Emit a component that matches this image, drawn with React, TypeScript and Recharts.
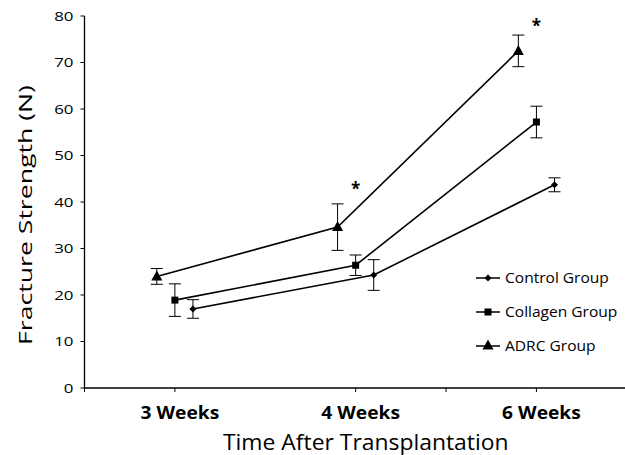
import React from 'react'
import {
  ComposedChart,
  Line,
  XAxis,
  YAxis,
  ErrorBar,
} from 'recharts'

const categories = ['3 Weeks', '4 Weeks', '6 Weeks']
const controlMean = [17.0, 24.3, 43.7]
const controlErr = [2.0, 3.3, 1.5]
const collagenMean = [18.9, 26.4, 57.2]
const collagenErr = [3.5, 2.2, 3.4]
const adrcMean = [24.0, 34.6, 72.5]
const adrcErr = [1.7, 5.0, 3.4]
// where the significance asterisks sit (N)
const starLevel = [null, 43.2, 78.3]
const yTicks = [0, 10, 20, 30, 40, 50, 60, 70, 80]
// the original axis has a few unlabelled ticks too
const xTicks = [-0.5, 0, 1, 1.5, 2]

const FONT = '"Open Sans", sans-serif'
const DODGE = { adrc: -0.1, collagen: 0, control: 0.1 }

const build = (mean: number[], err: number[], shift: number) =>
  categories.map((_, i) => ({ x: i + shift, y: mean[i], err: err[i] }))

const controlData = build(controlMean, controlErr, DODGE.control)
const collagenData = build(collagenMean, collagenErr, DODGE.collagen)
const adrcData = build(adrcMean, adrcErr, DODGE.adrc)
const starData = categories
  .map((_, i) => ({ x: i, y: starLevel[i] }))
  .filter(d => d.y !== null)

const SERIES = [
  { name: 'Control Group', shape: 'diamond' },
  { name: 'Collagen Group', shape: 'square' },
  { name: 'ADRC Group', shape: 'triangle' },
]

// the source figure is stretched sideways, so text gets a horizontal scale
function SText({ x, y, sx = 1, rotate = 0, children, ...rest }: any) {
  return (
    <text transform={`translate(${x},${y}) rotate(${rotate}) scale(${sx},1)`} fontFamily={FONT} fill="#000" {...rest}>
      {children}
    </text>
  )
}

function Marker({ shape, cx, cy }: { shape: string; cx: number; cy: number }) {
  if (shape === 'diamond') {
    return <path d={`M${cx},${cy - 3.5}L${cx + 3.5},${cy}L${cx},${cy + 3.5}L${cx - 3.5},${cy}Z`} fill="#000" />
  }
  if (shape === 'square') {
    return <rect x={cx - 3.5} y={cy - 3.5} width={7} height={7} fill="#000" />
  }
  return <path d={`M${cx},${cy - 6}L${cx + 5.5},${cy + 4}L${cx - 5.5},${cy + 4}Z`} fill="#000" />
}

const dotFor = (shape: string) => (p: any) => (
  <Marker key={`${shape}-${p.index}`} shape={shape} cx={p.cx} cy={p.cy} />
)

const starDot = (p: any) => (
  <SText key={`star-${p.index}`} x={p.cx} y={p.cy + 8} textAnchor="middle" fontSize={17} fontWeight={700}>
    *
  </SText>
)

function XTick({ x, y, payload }: any) {
  const label = categories[payload.value]
  if (!label) return null
  return (
    <SText x={x + 5} y={y + 25} sx={1.13} textAnchor="middle" fontSize={17} fontWeight={700}>
      {label}
    </SText>
  )
}

function YTick({ x, y, payload }: any) {
  return (
    <SText x={x} y={y + 4.6} sx={1.3} textAnchor="end" fontSize={13}>
      {payload.value}
    </SText>
  )
}

function XTitle({ viewBox }: any) {
  return (
    <SText x={viewBox.x + viewBox.width / 2 + 11} y={viewBox.y + 62} sx={1.09} textAnchor="middle" fontSize={21}>
      Time After Transplantation
    </SText>
  )
}

function YTitle({ viewBox }: any) {
  return (
    <SText x={32} y={viewBox.y + viewBox.height / 2 + 13} rotate={-90} sx={1.48} textAnchor="middle" fontSize={18}>
      Fracture Strength (N)
    </SText>
  )
}

function LegendBox() {
  return (
    <svg width={155} height={105} style={{ position: 'absolute', left: 470, top: 260 }}>
      {SERIES.map((s, i) => {
        const cy = 18 + i * 34
        return (
          <g key={s.name}>
            <line x1={6} y1={cy} x2={30} y2={cy} stroke="#000" strokeWidth={1.5} />
            <Marker shape={s.shape} cx={18} cy={s.shape === 'triangle' ? cy - 0.5 : cy} />
            <SText x={35} y={cy + 5} sx={1.11} fontSize={14}>
              {s.name}
            </SText>
          </g>
        )
      })}
    </svg>
  )
}

export default function App() {
  return (
    <div style={{ position: 'absolute', left: 0, top: 0, width: 625, height: 455, background: '#fff' }}>
      <ComposedChart width={625} height={455} margin={{ top: 16, right: 0, bottom: 0, left: 0 }}>
        <XAxis
          dataKey="x"
          type="number"
          domain={[-0.5, 2.49]}
          ticks={xTicks}
          interval={0}
          height={67}
          tick={<XTick />}
          tickSize={4}
          axisLine={{ stroke: '#000', strokeWidth: 1.3 }}
          tickLine={{ stroke: '#000' }}
          label={<XTitle />}
        />
        <YAxis
          type="number"
          domain={[0, 80]}
          ticks={yTicks}
          interval={0}
          width={84.5}
          tickSize={4}
          tickMargin={7}
          tick={<YTick />}
          axisLine={{ stroke: '#000', strokeWidth: 1.3 }}
          tickLine={{ stroke: '#000' }}
          label={<YTitle />}
        />
        <Line data={controlData} dataKey="y" name="Control Group" stroke="#000" strokeWidth={1.6} dot={dotFor('diamond')} activeDot={false} isAnimationActive={false}>
          <ErrorBar dataKey="err" width={6} stroke="#000" strokeWidth={1} direction="y" />
        </Line>
        <Line data={collagenData} dataKey="y" name="Collagen Group" stroke="#000" strokeWidth={1.6} dot={dotFor('square')} activeDot={false} isAnimationActive={false}>
          <ErrorBar dataKey="err" width={6} stroke="#000" strokeWidth={1} direction="y" />
        </Line>
        <Line data={adrcData} dataKey="y" name="ADRC Group" stroke="#000" strokeWidth={1.6} dot={dotFor('triangle')} activeDot={false} isAnimationActive={false}>
          <ErrorBar dataKey="err" width={6} stroke="#000" strokeWidth={1} direction="y" />
        </Line>
        <Line data={starData} dataKey="y" stroke="none" dot={starDot} activeDot={false} legendType="none" isAnimationActive={false} />
      </ComposedChart>
      <LegendBox />
    </div>
  )
}
